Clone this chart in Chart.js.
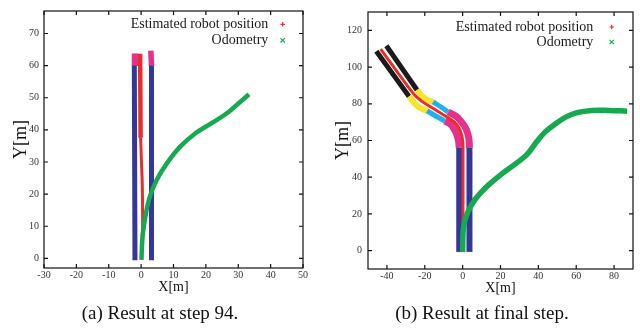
<!DOCTYPE html>
<html>
<head>
<meta charset="utf-8">
<script src="https://cdn.jsdelivr.net/npm/chart.js@4.4.0/dist/chart.umd.min.js"></script>
<style>
  html, body { margin: 0; padding: 0; background: #fff; }
  #wrap { position: relative; width: 640px; height: 329px; overflow: hidden; }
  canvas { position: absolute; top: 0; }
  #chartA { left: 0; }
  #chartB { left: 320px; }
  .cap { position: absolute; top: 301px; width: 320px; text-align: center;
         font-family: "Liberation Serif", "Times New Roman", serif; font-size: 19px;
         line-height: 24px; color: #111; }
</style>
</head>
<body>
<div id="wrap">
  <canvas id="chartA" width="320" height="329"></canvas>
  <canvas id="chartB" width="320" height="329"></canvas>
  <div class="cap" style="left:0">(a) Result at step 94.</div>
  <div class="cap" style="left:322px">(b) Result at final step.</div>
</div>
<script>
// ---- (a) step 94
const xTicksA = [-30, -20, -10, 0, 10, 20, 30, 40, 50];
const yTicksA = [0, 10, 20, 30, 40, 50, 60, 70];
const estA = [[0.3, 5], [0.45, 10], [0.45, 15], [0.4, 20], [0.3, 25], [0.1, 30], [-0.05, 35],
  [-0.15, 37.5], [-0.2, 45], [-0.25, 55], [-0.3, 63.7]];
const odoA = [[0.1, -0.5], [0.45, 6.9], [1.5, 14.1], [2.7, 19.2], [4.8, 24.4], [7.9, 29.5],
  [12.0, 34.7], [16.6, 38.8], [22.3, 42.4], [26.9, 45.5], [30.5, 48.6], [33.3, 51.1]];
const laneLeftA = [[-1.9, -0.6], [-2.0, 30], [-2.1, 60]];
const laneLeftTopA = [[-1.9, 59.9], [-1.9, 63.8]];
const laneRightA = [[3.2, -0.6], [3.2, 30], [3.2, 60]];
const laneRightTopA = [[3.2, 59.9], [3.0, 64.7]];

// ---- (b) final step
const xTicksB = [-40, -20, 0, 20, 40, 60, 80];
const yTicksB = [0, 20, 40, 60, 80, 100, 120];
const estB = [[0.1, 0], [0.2, 56], [-0.3, 62], [-1.8, 66.5], [-4.3, 70], [-8.5, 73], [-13, 75.8],
  [-17.2, 78.5], [-21.5, 81.3], [-26, 85.5], [-43.3, 109.8]];
const odoB = [[0, -0.7], [0.3, 11.1], [1.2, 16.5], [3.0, 21.6], [6.5, 27.8], [10, 32], [13.6, 35.7],
  [20.7, 41.8], [27.7, 47.1], [33.9, 52.3], [39.2, 59.4], [43.6, 64.7], [48.9, 69.0], [54.2, 72.6],
  [60.4, 75.2], [68.3, 76.4], [77.1, 76.4], [86.9, 76.0]];
const straightInB = [[-1.8, -0.7], [-1.8, 56]];
const straightOutB = [[3.6, -0.7], [3.6, 56]];
const bendInB = [[-1.8, 56], [-2.2, 60], [-3.2, 63.5], [-4.6, 66.5], [-6.9, 69.3], [-9.4, 70.6]];
const bendOutB = [[3.6, 56], [3.3, 61], [2.1, 65.6], [0.2, 69], [-3.2, 73], [-7.6, 75.5]];
const flatInB = [[-9.4, 70.6], [-14, 73.2], [-18.8, 76.2]];
const flatOutB = [[-7.6, 75.5], [-11.5, 78.3], [-15.6, 81]];
const turnInB = [[-18.8, 76.2], [-22.5, 77.8], [-25.5, 80.3], [-28.3, 84]];
const turnOutB = [[-15.6, 81], [-19, 82.3], [-21.8, 84.4], [-24.1, 87.5]];
const lineInB = [[-28.3, 84], [-45.6, 108.6]];
const lineOutB = [[-24.1, 87.5], [-40.3, 111.6]];

const SERIF = '"Liberation Serif", "Times New Roman", serif';
Chart.defaults.font.family = SERIF;

const BLUE = '#34379a', PINK = '#e6318c', RED = '#ec2b2b', GREEN = '#17a852',
      YELLOW = '#f5e32c', CYAN = '#22b0e6', BLACK = '#1b1b1b';

const pts = arr => arr.map(([x, y]) => ({ x, y }));

function band(data, color, width) {
  return {
    label: '', data: pts(data), showLine: true, pointRadius: 0, borderColor: color,
    borderWidth: width, borderCapStyle: 'butt', tension: 0.3, order: 2
  };
}

// legend drawn inside the plot, text first then the marker
const innerKey = {
  id: 'innerKey',
  afterDatasetsDraw(chart, args, opts) {
    const { ctx, chartArea: a } = chart;
    ctx.save();
    ctx.font = '14px ' + SERIF;
    ctx.textAlign = 'right';
    ctx.textBaseline = 'middle';
    let y = a.top + opts.top;
    chart.data.datasets.forEach(ds => {
      if (!ds.label) return;
      ctx.fillStyle = '#1a1a1a';
      ctx.fillText(ds.label, a.right - opts.textRight, y);
      const mx = a.right - opts.mark, r = 2.2;
      ctx.strokeStyle = ds.borderColor;
      ctx.lineWidth = 1.2;
      ctx.beginPath();
      if (ds.key === 'cross') {
        ctx.moveTo(mx - r, y); ctx.lineTo(mx + r, y);
        ctx.moveTo(mx, y - r); ctx.lineTo(mx, y + r);
      } else {
        ctx.moveTo(mx - r, y - r); ctx.lineTo(mx + r, y + r);
        ctx.moveTo(mx - r, y + r); ctx.lineTo(mx + r, y - r);
      }
      ctx.stroke();
      y += opts.gap;
    });
    ctx.restore();
  }
};

// box round the plot with inward tick marks on all four sides
const frame = {
  id: 'frame',
  afterDraw(chart) {
    const { ctx, chartArea: a, scales: { x, y } } = chart;
    ctx.save();
    ctx.strokeStyle = '#111';
    ctx.lineWidth = 1.2;
    ctx.strokeRect(a.left, a.top, a.right - a.left, a.bottom - a.top);
    ctx.beginPath();
    x.ticks.forEach(t => {
      const px = x.getPixelForValue(t.value);
      ctx.moveTo(px, a.bottom); ctx.lineTo(px, a.bottom - 4);
      ctx.moveTo(px, a.top); ctx.lineTo(px, a.top + 4);
    });
    y.ticks.forEach(t => {
      const py = y.getPixelForValue(t.value);
      ctx.moveTo(a.left, py); ctx.lineTo(a.left + 4, py);
      ctx.moveTo(a.right, py); ctx.lineTo(a.right - 4, py);
    });
    ctx.stroke();
    ctx.restore();
  }
};

function axes(xr, yr, xt, yt, yWidth, yTitlePad, yPad) {
  const tickFont = { family: SERIF, size: 10 };
  return {
    x: {
      type: 'linear', min: xr[0], max: xr[1],
      afterBuildTicks: s => { s.ticks = xt.map(v => ({ value: v })); },
      afterFit: s => { s.height = 28; },
      grid: { display: false, drawTicks: false }, border: { display: false },
      ticks: { font: tickFont, color: '#333', padding: 1, maxRotation: 0, autoSkip: false },
      title: { display: true, text: 'X[m]', color: '#111', font: { family: SERIF, size: 14 }, padding: 0 }
    },
    y: {
      type: 'linear', min: yr[0], max: yr[1],
      afterBuildTicks: s => { s.ticks = yt.map(v => ({ value: v })); },
      afterFit: s => { s.width = yWidth; },
      grid: { display: false, drawTicks: false }, border: { display: false },
      ticks: { font: tickFont, color: '#333', padding: yPad, autoSkip: false },
      title: { display: true, text: 'Y[m]', color: '#111', font: { family: SERIF, size: 18 },
               padding: { top: yTitlePad, bottom: 0 } }
    }
  };
}

function estimated(data, widthFn) {
  return {
    label: 'Estimated robot position', key: 'cross', data: pts(data), showLine: true,
    pointRadius: 0, borderColor: RED, borderWidth: 3, tension: 0.3, order: 1,
    segment: widthFn ? { borderWidth: widthFn } : undefined
  };
}

function odometry(data, width) {
  return {
    label: 'Odometry', key: 'xmark', data: pts(data), showLine: true, pointRadius: 0,
    borderColor: GREEN, borderWidth: width, tension: 0.35, order: 0
  };
}

new Chart(document.getElementById('chartA'), {
  type: 'scatter',
  data: {
    datasets: [
      estimated(estA, ctx => ctx.p0.parsed.y >= 37.5 ? 4.5 : 3),
      odometry(odoA, 4.5),
      band(laneLeftA, BLUE, 5),
      band(laneRightA, BLUE, 5),
      band(laneLeftTopA, PINK, 6.5),
      band(laneRightTopA, PINK, 5.5)
    ]
  },
  options: {
    responsive: false, animation: false,
    layout: { padding: { left: 0, top: 10, right: 17, bottom: 33 } },
    scales: axes([-30, 50], [-3, 77], xTicksA, yTicksA, 44, 10, 5),
    plugins: {
      legend: { display: false }, tooltip: { enabled: false },
      innerKey: { top: 13.3, gap: 16, textRight: 34.7, mark: 20.3 }
    }
  },
  plugins: [innerKey, frame]
});

new Chart(document.getElementById('chartB'), {
  type: 'scatter',
  data: {
    datasets: [
      estimated(estB),
      odometry(odoB, 5.5),
      band(straightInB, BLUE, 6),
      band(straightOutB, BLUE, 6),
      band(bendInB, PINK, 7),
      band(bendOutB, PINK, 7),
      band(flatInB, CYAN, 5),
      band(flatOutB, CYAN, 5),
      band(turnInB, YELLOW, 6),
      band(turnOutB, YELLOW, 6),
      band(lineInB, BLACK, 5),
      band(lineOutB, BLACK, 5)
    ]
  },
  options: {
    responsive: false, animation: false,
    layout: { padding: { left: 0, top: 5, right: 7, bottom: 32 } },
    scales: axes([-50, 90], [-10, 130], xTicksB, yTicksB, 48, 12, 6),
    plugins: {
      legend: { display: false }, tooltip: { enabled: false },
      innerKey: { top: 15, gap: 15, textRight: 39.7, mark: 21.3 }
    }
  },
  plugins: [innerKey, frame]
});
</script>
</body>
</html>
